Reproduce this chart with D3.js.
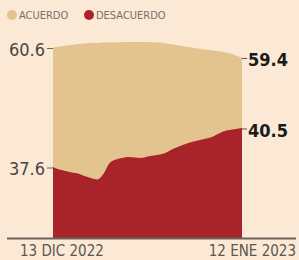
<!DOCTYPE html>
<html>
<head>
<meta charset="utf-8">
<script src="https://cdn.jsdelivr.net/npm/d3@7"></script>
<style>
  html, body { margin: 0; padding: 0; background: #fbe9d6; }
  svg { display: block; }
</style>
</head>
<body>
<div id="chart"></div>
<script>
// daily tracking, 13 dic 2022 .. 12 ene 2023
const startDate = new Date(2022, 11, 13);
const acuerdo = [60.6, 60.72, 60.84, 60.9, 61.02, 61.08, 61.14, 61.14, 61.2, 61.2, 61.2,
  61.26, 61.26, 61.26, 61.26, 61.26, 61.2, 61.2, 61.08, 60.96, 60.84, 60.72, 60.6,
  60.48, 60.36, 60.3, 60.18, 60.06, 59.94, 59.64, 59.4];
const desacuerdo = [37.6, 37.41, 37.3, 37.19, 37.12, 36.93, 36.78, 36.67, 37.08, 37.9, 38.16,
  38.27, 38.34, 38.31, 38.27, 38.38, 38.45, 38.53, 38.68, 38.94, 39.12, 39.31, 39.46,
  39.57, 39.68, 39.79, 40.02, 40.24, 40.35, 40.43, 40.5];
const seriesNames = ["ACUERDO", "DESACUERDO"];
const xLabels = ["13 DIC 2022", "12 ENE 2023"];

const colors = { acuerdo: "#e3c48e", desacuerdo: "#a9232a" };
const font = "'DejaVu Sans Condensed', 'DejaVu Sans'";

const width = 299, height = 260;
const plotLeft = 53, plotRight = 242, baseY = 238;

const dates = acuerdo.map((_, i) => d3.timeDay.offset(startDate, i));

const x = d3.scaleTime()
  .domain(d3.extent(dates))
  .range([plotLeft, plotRight]);

// the two series sit on their own vertical scales in the original
const yA = d3.scaleLinear().domain([37.73, 60.6]).range([baseY, 47.5]);
const yD = d3.scaleLinear().domain([32.32, 37.6]).range([baseY, 167]);

const svg = d3.select("#chart").append("svg")
  .attr("width", width)
  .attr("height", height);

svg.append("rect").attr("width", width).attr("height", height).attr("fill", "#fbe9d6");

// legend
const legend = svg.append("g").attr("font-family", font)
  .attr("font-size", 11).attr("fill", "#7a6f66");
const legendX = [12, 89];
seriesNames.forEach((name, i) => {
  legend.append("circle").attr("cx", legendX[i]).attr("cy", 15).attr("r", 5)
    .attr("fill", i === 0 ? colors.acuerdo : colors.desacuerdo);
  legend.append("text").attr("x", legendX[i] + 7).attr("y", 19).text(name);
});

const areaA = d3.area()
  .x((d, i) => x(dates[i]))
  .y0(baseY)
  .y1(d => yA(d))
  .curve(d3.curveMonotoneX);

const areaD = d3.area()
  .x((d, i) => x(dates[i]))
  .y0(baseY)
  .y1(d => yD(d))
  .curve(d3.curveMonotoneX);

svg.append("path").datum(acuerdo).attr("d", areaA).attr("fill", colors.acuerdo);
svg.append("path").datum(desacuerdo).attr("d", areaD).attr("fill", colors.desacuerdo);

// value labels
const first = 0, last = acuerdo.length - 1;
const leftLabels = [
  { v: acuerdo[first], y: yA(acuerdo[first]) },
  { v: desacuerdo[first], y: yD(desacuerdo[first]) }
];
const rightLabels = [
  { v: acuerdo[last], y: yA(acuerdo[last]) },
  { v: desacuerdo[last], y: yD(desacuerdo[last]) }
];

leftLabels.forEach(d => {
  svg.append("line").attr("x1", plotLeft - 6).attr("x2", plotLeft)
    .attr("y1", d.y + 1).attr("y2", d.y + 1).attr("stroke", "#666").attr("stroke-width", 1);
  svg.append("text").attr("x", plotLeft - 8).attr("y", d.y + 8)
    .attr("text-anchor", "end")
    .attr("font-family", font)
    .attr("font-size", 18).attr("fill", "#4a4541")
    .text(d3.format(".1f")(d.v));
});

rightLabels.forEach(d => {
  svg.append("line").attr("x1", plotRight).attr("x2", plotRight + 5)
    .attr("y1", d.y + 1).attr("y2", d.y + 1).attr("stroke", "#555").attr("stroke-width", 1);
  svg.append("text").attr("x", plotRight + 6).attr("y", d.y + 9)
    .attr("font-family", font)
    .attr("font-weight", "bold")
    .attr("font-size", 18).attr("fill", "#1a1a1a")
    .text(d3.format(".1f")(d.v));
});

// baseline + date labels
svg.append("line").attr("x1", 7).attr("x2", 296)
  .attr("y1", baseY + 0.5).attr("y2", baseY + 0.5)
  .attr("stroke", "#6e625a").attr("stroke-width", 2);

const xAxis = svg.append("g").attr("font-family", font)
  .attr("font-size", 15).attr("fill", "#5d5650");
xAxis.append("text").attr("x", x(dates[first]) - 33).attr("y", 256).text(xLabels[0]);
xAxis.append("text").attr("x", 296).attr("y", 256).attr("text-anchor", "end").text(xLabels[1]);
</script>
</body>
</html>
